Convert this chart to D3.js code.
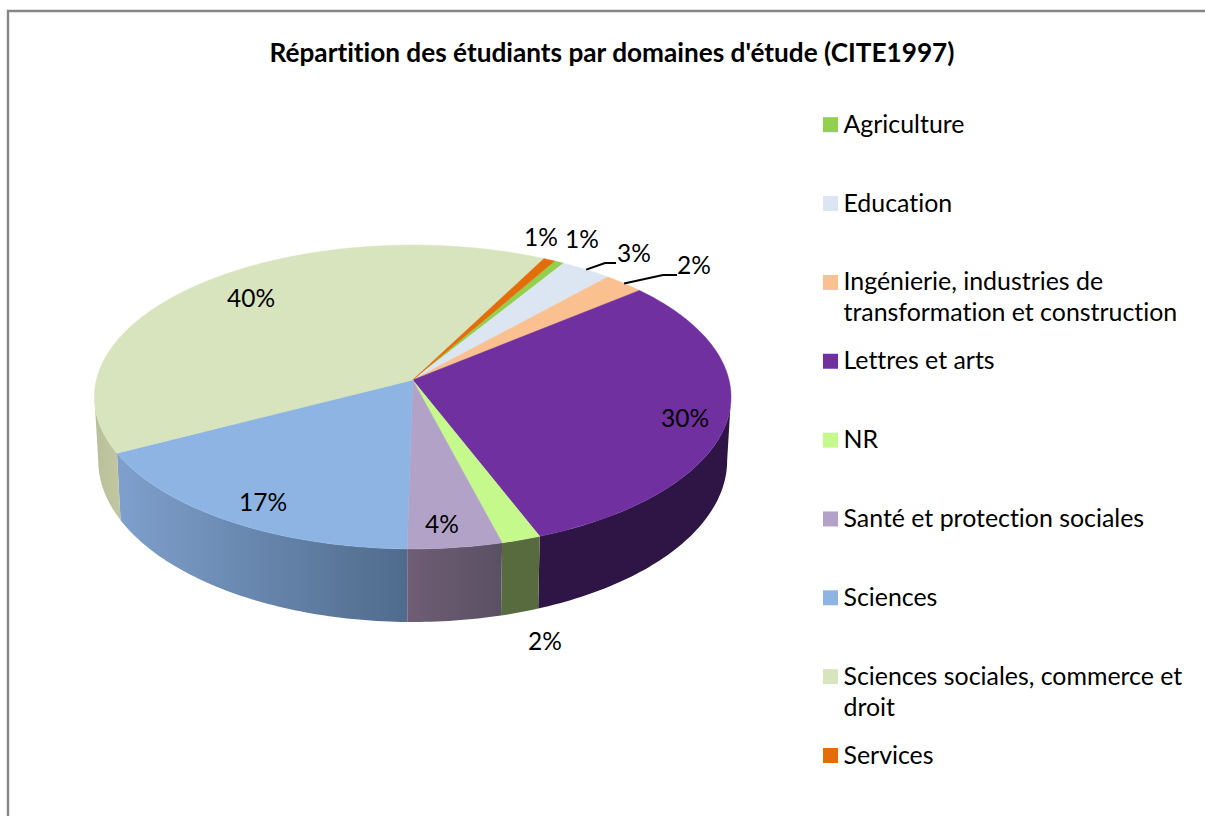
<!DOCTYPE html>
<html>
<head>
<meta charset="utf-8">
<script src="https://cdn.jsdelivr.net/npm/d3@7/dist/d3.min.js"></script>
<style>
html,body{margin:0;padding:0;background:#fff;overflow:hidden}
text{font-family:Lato,"Open Sans",sans-serif;fill:#000;font-variant-ligatures:none;font-feature-settings:"liga" 0,"clig" 0}
</style>
</head>
<body>
<svg id="c" width="1205" height="816"></svg>
<script>
const titleText = "Répartition des étudiants par domaines d'étude (CITE1997)";
const categories = ["Agriculture","Education","Ingénierie, industries de transformation et construction","Lettres et arts","NR","Santé et protection sociales","Sciences","Sciences sociales, commerce et droit","Services"];
const legendLines = [["Agriculture"],["Education"],["Ingénierie, industries de","transformation et construction"],["Lettres et arts"],["NR"],["Santé et protection sociales"],["Sciences"],["Sciences sociales, commerce et","droit"],["Services"]];
const values = [0.55,2.9,2.3,30.2,1.8,4.3,17.1,40.2,0.65];
const valueLabels = ["1%","3%","2%","30%","2%","4%","17%","40%","1%"];
const topColors = ["#92d050","#dce6f2","#fac090","#7030a0","#c6f98c","#b3a2c7","#8eb4e3","#d7e4bd","#e46c0a"];
const wallColors = [["#6d9c3c","#6d9c3c"],["#a5adb6","#a5adb6"],["#bb906c","#bb906c"],["#2e1545","#2e1545"],["#576b3e","#576b3e"],["#6f5d74","#5a5064"],["#7fa0cd","#4f6b8c"],["#b8bf9a","#bfc6a0"],["#ab5108","#ab5108"]];
const labelPositions = [[582,238],[634,252],[694,264],[685,417],[545,640],[442,523],[263,501],[251,297],[541,236]];
const leaderElbows = {1:[[605,263],[616,263]],2:[[663,275],[677,275]]};

const apex = {x:412.7,y:380}, k = 0.1118;
const topDisc = {cy:apex.y, ax:316.3, ay:150};
const botDisc = {cy:442.3, ax:312.5, ay:159.6};
const startDeg = 29.5;

function project(a, disc){
  const x = Math.sin(a), y = -Math.cos(a), w = 1-k*y;
  return [apex.x + disc.ax*x/w, disc.cy + disc.ay*y/w];
}
const svg = d3.select("#c");
const defs = svg.append("defs");

svg.append("path").attr("d","M8 816V11H1205").attr("fill","none").attr("stroke","#868686").attr("stroke-width",2.4);

svg.append("text").attr("x",612).attr("y",62).attr("text-anchor","middle")
  .attr("font-size",26.2).attr("font-weight",700).text(titleText);

const arcs = d3.pie().sort(null).value(d=>d)
  .startAngle(startDeg*Math.PI/180).endAngle((startDeg+360)*Math.PI/180)(values);

const line = d3.line();
const step = Math.PI/180;
function arcAngles(s,e){ const n=Math.max(2,Math.ceil((e-s)/step)); return d3.range(n+1).map(i=>s+(e-s)*i/n); }

// walls: quads between the two rims, from one tangent of the silhouette to the other
const visLo = Math.acos(-k), visHi = 2*Math.PI - visLo;
const walls = arcs.map((d,i)=>({i,s:Math.max(d.startAngle,visLo),e:Math.min(d.endAngle,visHi)})).filter(d=>d.e>d.s);
walls.forEach(w=>{
  const as = arcAngles(w.s,w.e);
  const xs = as.map(a=>project(a,topDisc)[0]);
  const g = defs.append("linearGradient").attr("id","w"+w.i).attr("gradientUnits","userSpaceOnUse")
    .attr("x1",d3.min(xs)).attr("x2",d3.max(xs)).attr("y1",0).attr("y2",0);
  g.append("stop").attr("offset",0).attr("stop-color",wallColors[w.i][0]);
  g.append("stop").attr("offset",1).attr("stop-color",wallColors[w.i][1]);
  const d = d3.pairs(as).map(([a,b])=>line([project(a,topDisc),project(b,topDisc),project(b,botDisc),project(a,botDisc)])+"Z").join("");
  svg.append("path").attr("d",d).attr("fill",`url(#w${w.i})`);
});

// top face
arcs.forEach((d,i)=>{
  const pts = [[apex.x,apex.y]].concat(arcAngles(d.startAngle,d.endAngle).map(a=>project(a,topDisc)));
  svg.append("path").attr("d",line(pts)+"Z").attr("fill",topColors[i]).attr("stroke",topColors[i]).attr("stroke-width",0.5);
});

// leaders
Object.keys(leaderElbows).forEach(key=>{
  const d = arcs[+key], mid=(d.startAngle+d.endAngle)/2;
  svg.append("path").attr("d",line([project(mid,topDisc),...leaderElbows[key]]))
    .attr("fill","none").attr("stroke","#000").attr("stroke-width",2);
});

// data labels
labelPositions.forEach((p,i)=>{
  svg.append("text").attr("x",p[0]).attr("y",p[1]).attr("text-anchor","middle").attr("dominant-baseline","central")
    .attr("font-size",24.5).text(valueLabels[i]);
});

// legend
const legendY = d3.scalePoint().domain(categories).range([124.7,755.5]);
categories.forEach((c,i)=>{
  const y = legendY(c);
  svg.append("rect").attr("x",823).attr("y",y-7.5).attr("width",15).attr("height",15).attr("fill",topColors[i]);
  legendLines[i].forEach((t,j)=>{
    svg.append("text").attr("x",843.5).attr("y",y-2+j*31).attr("dominant-baseline","central").attr("font-size",24.9).text(t);
  });
});
</script>
</body>
</html>
